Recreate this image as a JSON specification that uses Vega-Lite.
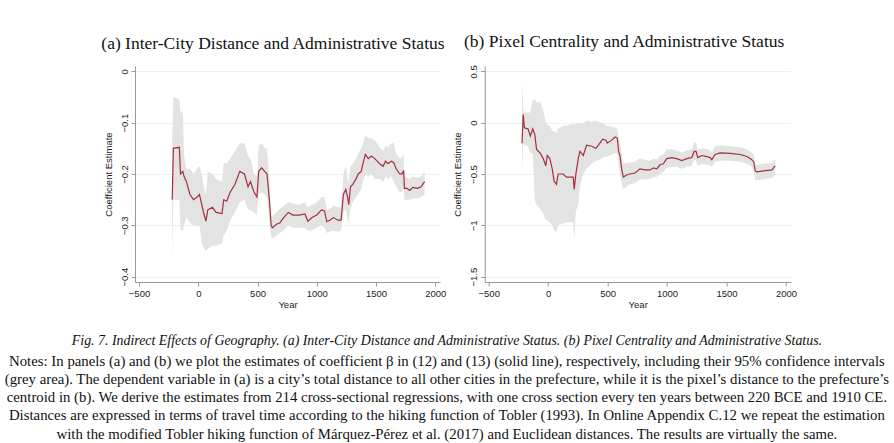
{
  "$schema": "https://vega.github.io/schema/vega-lite/v6.json",
  "background": "white",
  "padding": {"left": 4, "top": 33, "right": 4, "bottom": 2},
  "datasets": {
    "a": [
      {"year": -220, "est": -0.25, "lo": -0.37, "hi": -0.13},
      {"year": -210, "est": -0.15, "lo": -0.25, "hi": -0.05},
      {"year": -160, "est": -0.148, "lo": -0.25, "hi": -0.055},
      {"year": -150, "est": -0.2, "lo": -0.31, "hi": -0.08},
      {"year": -130, "est": -0.195, "lo": -0.31, "hi": -0.08},
      {"year": -120, "est": -0.205, "lo": -0.3, "hi": -0.165},
      {"year": -100, "est": -0.215, "lo": -0.285, "hi": -0.19},
      {"year": -70, "est": -0.24, "lo": -0.295, "hi": -0.19},
      {"year": -40, "est": -0.25, "lo": -0.3, "hi": -0.2},
      {"year": -10, "est": -0.245, "lo": -0.3, "hi": -0.19},
      {"year": 10, "est": -0.24, "lo": -0.3, "hi": -0.185},
      {"year": 30, "est": -0.26, "lo": -0.335, "hi": -0.2},
      {"year": 50, "est": -0.28, "lo": -0.345, "hi": -0.23},
      {"year": 65, "est": -0.292, "lo": -0.35, "hi": -0.24},
      {"year": 80, "est": -0.27, "lo": -0.345, "hi": -0.195},
      {"year": 120, "est": -0.265, "lo": -0.34, "hi": -0.2},
      {"year": 150, "est": -0.275, "lo": -0.34, "hi": -0.21},
      {"year": 200, "est": -0.277, "lo": -0.335, "hi": -0.215},
      {"year": 215, "est": -0.25, "lo": -0.32, "hi": -0.178},
      {"year": 240, "est": -0.253, "lo": -0.31, "hi": -0.18},
      {"year": 270, "est": -0.235, "lo": -0.29, "hi": -0.17},
      {"year": 310, "est": -0.22, "lo": -0.275, "hi": -0.155},
      {"year": 350, "est": -0.195, "lo": -0.255, "hi": -0.14},
      {"year": 390, "est": -0.2, "lo": -0.25, "hi": -0.14},
      {"year": 420, "est": -0.225, "lo": -0.27, "hi": -0.165},
      {"year": 440, "est": -0.215, "lo": -0.27, "hi": -0.17},
      {"year": 470, "est": -0.235, "lo": -0.275, "hi": -0.2},
      {"year": 495, "est": -0.245, "lo": -0.28, "hi": -0.205},
      {"year": 510, "est": -0.195, "lo": -0.24, "hi": -0.145},
      {"year": 535, "est": -0.188, "lo": -0.235, "hi": -0.14},
      {"year": 560, "est": -0.195, "lo": -0.24, "hi": -0.15},
      {"year": 580, "est": -0.2, "lo": -0.245, "hi": -0.15},
      {"year": 600, "est": -0.25, "lo": -0.29, "hi": -0.21},
      {"year": 615, "est": -0.3, "lo": -0.322, "hi": -0.28},
      {"year": 625, "est": -0.305, "lo": -0.325, "hi": -0.282},
      {"year": 660, "est": -0.298, "lo": -0.32, "hi": -0.275},
      {"year": 690, "est": -0.295, "lo": -0.315, "hi": -0.268},
      {"year": 720, "est": -0.285, "lo": -0.31, "hi": -0.262},
      {"year": 760, "est": -0.275, "lo": -0.3, "hi": -0.255},
      {"year": 800, "est": -0.28, "lo": -0.305, "hi": -0.258},
      {"year": 850, "est": -0.28, "lo": -0.305, "hi": -0.26},
      {"year": 900, "est": -0.278, "lo": -0.305, "hi": -0.255},
      {"year": 925, "est": -0.292, "lo": -0.31, "hi": -0.265},
      {"year": 960, "est": -0.285, "lo": -0.31, "hi": -0.26},
      {"year": 1000, "est": -0.28, "lo": -0.305, "hi": -0.255},
      {"year": 1040, "est": -0.27, "lo": -0.3, "hi": -0.245},
      {"year": 1065, "est": -0.272, "lo": -0.305, "hi": -0.245},
      {"year": 1085, "est": -0.293, "lo": -0.315, "hi": -0.27},
      {"year": 1110, "est": -0.29, "lo": -0.312, "hi": -0.268},
      {"year": 1140, "est": -0.285, "lo": -0.31, "hi": -0.262},
      {"year": 1180, "est": -0.29, "lo": -0.312, "hi": -0.265},
      {"year": 1205, "est": -0.29, "lo": -0.31, "hi": -0.265},
      {"year": 1225, "est": -0.24, "lo": -0.275, "hi": -0.2},
      {"year": 1245, "est": -0.23, "lo": -0.268, "hi": -0.185},
      {"year": 1260, "est": -0.245, "lo": -0.29, "hi": -0.21},
      {"year": 1270, "est": -0.26, "lo": -0.295, "hi": -0.215},
      {"year": 1285, "est": -0.225, "lo": -0.265, "hi": -0.185},
      {"year": 1305, "est": -0.22, "lo": -0.255, "hi": -0.18},
      {"year": 1330, "est": -0.21, "lo": -0.245, "hi": -0.17},
      {"year": 1350, "est": -0.2, "lo": -0.24, "hi": -0.16},
      {"year": 1375, "est": -0.195, "lo": -0.23, "hi": -0.15},
      {"year": 1390, "est": -0.18, "lo": -0.215, "hi": -0.14},
      {"year": 1410, "est": -0.162, "lo": -0.2, "hi": -0.125},
      {"year": 1435, "est": -0.17, "lo": -0.205, "hi": -0.13},
      {"year": 1460, "est": -0.165, "lo": -0.2, "hi": -0.13},
      {"year": 1490, "est": -0.17, "lo": -0.21, "hi": -0.135},
      {"year": 1510, "est": -0.175, "lo": -0.21, "hi": -0.14},
      {"year": 1530, "est": -0.18, "lo": -0.21, "hi": -0.148},
      {"year": 1560, "est": -0.185, "lo": -0.215, "hi": -0.155},
      {"year": 1580, "est": -0.175, "lo": -0.205, "hi": -0.145},
      {"year": 1600, "est": -0.18, "lo": -0.21, "hi": -0.148},
      {"year": 1630, "est": -0.175, "lo": -0.205, "hi": -0.14},
      {"year": 1650, "est": -0.178, "lo": -0.215, "hi": -0.14},
      {"year": 1670, "est": -0.19, "lo": -0.225, "hi": -0.16},
      {"year": 1700, "est": -0.2, "lo": -0.235, "hi": -0.17},
      {"year": 1720, "est": -0.2, "lo": -0.235, "hi": -0.168},
      {"year": 1733, "est": -0.193, "lo": -0.225, "hi": -0.16},
      {"year": 1740, "est": -0.228, "lo": -0.25, "hi": -0.205},
      {"year": 1760, "est": -0.228, "lo": -0.25, "hi": -0.207},
      {"year": 1785, "est": -0.232, "lo": -0.25, "hi": -0.21},
      {"year": 1810, "est": -0.226, "lo": -0.248, "hi": -0.205},
      {"year": 1850, "est": -0.228, "lo": -0.248, "hi": -0.207},
      {"year": 1880, "est": -0.225, "lo": -0.245, "hi": -0.205},
      {"year": 1910, "est": -0.215, "lo": -0.24, "hi": -0.195}
    ],
    "b": [
      {"year": -220, "est": -0.2, "lo": -0.46, "hi": 0.42},
      {"year": -210, "est": 0.08, "lo": -0.2, "hi": 0.12},
      {"year": -200, "est": -0.05, "lo": -0.22, "hi": 0.1},
      {"year": -170, "est": -0.06, "lo": -0.23, "hi": 0.1},
      {"year": -150, "est": -0.13, "lo": -0.3, "hi": 0.1},
      {"year": -130, "est": -0.06, "lo": -0.3, "hi": 0.22},
      {"year": -112, "est": -0.12, "lo": -0.75, "hi": 0.23},
      {"year": -98, "est": -0.26, "lo": -0.8, "hi": 0.2},
      {"year": -65, "est": -0.3, "lo": -0.84, "hi": 0.2},
      {"year": -42, "est": -0.35, "lo": -0.88, "hi": 0.12},
      {"year": -20, "est": -0.42, "lo": -0.95, "hi": 0.0},
      {"year": -8, "est": -0.32, "lo": -0.95, "hi": -0.02},
      {"year": 14, "est": -0.35, "lo": -0.97, "hi": -0.03},
      {"year": 34, "est": -0.45, "lo": -1.0, "hi": -0.08},
      {"year": 50, "est": -0.57, "lo": -1.05, "hi": -0.08},
      {"year": 70, "est": -0.6, "lo": -1.06, "hi": -0.1},
      {"year": 84, "est": -0.5, "lo": -1.0, "hi": -0.06},
      {"year": 126, "est": -0.5, "lo": -0.98, "hi": -0.03},
      {"year": 154, "est": -0.53, "lo": -0.97, "hi": -0.03},
      {"year": 211, "est": -0.53, "lo": -0.97, "hi": -0.01},
      {"year": 219, "est": -0.65, "lo": -1.14, "hi": -0.02},
      {"year": 233, "est": -0.5, "lo": -0.86, "hi": -0.01},
      {"year": 253, "est": -0.35, "lo": -0.8, "hi": 0.0},
      {"year": 267, "est": -0.28, "lo": -0.62, "hi": 0.0},
      {"year": 295, "est": -0.32, "lo": -0.5, "hi": -0.01},
      {"year": 323, "est": -0.22, "lo": -0.45, "hi": 0.02},
      {"year": 365, "est": -0.23, "lo": -0.4, "hi": 0.01},
      {"year": 402, "est": -0.25, "lo": -0.37, "hi": 0.02},
      {"year": 435, "est": -0.2, "lo": -0.36, "hi": 0.0},
      {"year": 458, "est": -0.16, "lo": -0.34, "hi": 0.0},
      {"year": 486, "est": -0.17, "lo": -0.33, "hi": -0.03},
      {"year": 497, "est": -0.2, "lo": -0.33, "hi": -0.03},
      {"year": 534, "est": -0.17, "lo": -0.31, "hi": -0.04},
      {"year": 562, "est": -0.14, "lo": -0.3, "hi": -0.05},
      {"year": 581, "est": -0.15, "lo": -0.3, "hi": -0.06},
      {"year": 593, "est": -0.28, "lo": -0.42, "hi": -0.14},
      {"year": 604, "est": -0.32, "lo": -0.5, "hi": -0.18},
      {"year": 618, "est": -0.45, "lo": -0.6, "hi": -0.3},
      {"year": 632, "est": -0.53, "lo": -0.65, "hi": -0.4},
      {"year": 660, "est": -0.51, "lo": -0.62, "hi": -0.39},
      {"year": 688, "est": -0.5, "lo": -0.6, "hi": -0.39},
      {"year": 730, "est": -0.49, "lo": -0.59, "hi": -0.38},
      {"year": 772, "est": -0.45, "lo": -0.55, "hi": -0.35},
      {"year": 815, "est": -0.46, "lo": -0.55, "hi": -0.36},
      {"year": 857, "est": -0.46, "lo": -0.55, "hi": -0.37},
      {"year": 885, "est": -0.44, "lo": -0.53, "hi": -0.35},
      {"year": 913, "est": -0.45, "lo": -0.53, "hi": -0.36},
      {"year": 941, "est": -0.41, "lo": -0.5, "hi": -0.32},
      {"year": 969, "est": -0.4, "lo": -0.48, "hi": -0.31},
      {"year": 997, "est": -0.35, "lo": -0.44, "hi": -0.26},
      {"year": 1039, "est": -0.34, "lo": -0.43, "hi": -0.26},
      {"year": 1081, "est": -0.35, "lo": -0.43, "hi": -0.27},
      {"year": 1124, "est": -0.37, "lo": -0.45, "hi": -0.29},
      {"year": 1166, "est": -0.35, "lo": -0.43, "hi": -0.27},
      {"year": 1208, "est": -0.34, "lo": -0.42, "hi": -0.26},
      {"year": 1228, "est": -0.28, "lo": -0.36, "hi": -0.19},
      {"year": 1244, "est": -0.28, "lo": -0.37, "hi": -0.19},
      {"year": 1258, "est": -0.34, "lo": -0.42, "hi": -0.26},
      {"year": 1292, "est": -0.32, "lo": -0.4, "hi": -0.25},
      {"year": 1334, "est": -0.33, "lo": -0.41, "hi": -0.26},
      {"year": 1362, "est": -0.34, "lo": -0.42, "hi": -0.27},
      {"year": 1376, "est": -0.36, "lo": -0.43, "hi": -0.29},
      {"year": 1404, "est": -0.31, "lo": -0.38, "hi": -0.23},
      {"year": 1447, "est": -0.295, "lo": -0.37, "hi": -0.22},
      {"year": 1531, "est": -0.3, "lo": -0.37, "hi": -0.23},
      {"year": 1615, "est": -0.31, "lo": -0.38, "hi": -0.24},
      {"year": 1671, "est": -0.33, "lo": -0.4, "hi": -0.26},
      {"year": 1713, "est": -0.36, "lo": -0.43, "hi": -0.29},
      {"year": 1728, "est": -0.38, "lo": -0.46, "hi": -0.31},
      {"year": 1742, "est": -0.47, "lo": -0.56, "hi": -0.4},
      {"year": 1756, "est": -0.48, "lo": -0.56, "hi": -0.41},
      {"year": 1812, "est": -0.47, "lo": -0.55, "hi": -0.4},
      {"year": 1882, "est": -0.46, "lo": -0.54, "hi": -0.39},
      {"year": 1902, "est": -0.43, "lo": -0.51, "hi": -0.36},
      {"year": 1910, "est": -0.42, "lo": -0.5, "hi": -0.36}
    ]
  },
  "title": {
    "text": "Fig. 7. Indirect Effects of Geography. (a) Inter-City Distance and Administrative Status. (b) Pixel Centrality and Administrative Status.",
    "subtitle": [
      "Notes: In panels (a) and (b) we plot the estimates of coefficient β in (12) and (13) (solid line), respectively, including their 95% confidence intervals",
      "(grey area). The dependent variable in (a) is a city’s total distance to all other cities in the prefecture, while it is the pixel’s distance to the prefecture’s",
      "centroid in (b). We derive the estimates from 214 cross-sectional regressions, with one cross section every ten years between 220 BCE and 1910 CE.",
      "Distances are expressed in terms of travel time according to the hiking function of Tobler (1993). In Online Appendix C.12 we repeat the estimation",
      "with the modified Tobler hiking function of Márquez-Pérez et al. (2017) and Euclidean distances. The results are virtually the same."
    ],
    "orient": "bottom",
    "anchor": "middle",
    "dx": -2,
    "offset": 25,
    "font": "Liberation Serif",
    "fontSize": 13.9,
    "fontWeight": "normal",
    "fontStyle": "italic",
    "color": "#111",
    "subtitleFont": "Liberation Serif",
    "subtitleFontSize": 14.8,
    "subtitleColor": "#111",
    "subtitleLineHeight": 18.2,
    "subtitlePadding": 6
  },
  "hconcat": [
    {
      "width": 305,
      "height": 216,
      "title": {"text": "(a) Inter-City Distance and Administrative Status", "anchor": "start", "frame": "group", "dx": -33.7, "offset": 14},
      "data": {"name": "a"},
      "encoding": {
        "x": {"field": "year", "type": "quantitative", "title": "Year",
              "scale": {"domain": [-534, 2040], "nice": false, "zero": false},
              "axis": {"values": [-500, 0, 500, 1000, 1500, 2000], "format": "d", "grid": false}}
      },
      "layer": [
        {"mark": {"type": "area", "color": "#e3e3e3", "opacity": 1},
         "encoding": {
           "y": {"field": "lo", "type": "quantitative", "title": "Coefficient Estimate",
                 "scale": {"domain": [-0.4105, 0.0104], "nice": false, "zero": false},
                 "axis": {"values": [0, -0.1, -0.2, -0.3, -0.4], "format": ".1~f"}},
           "y2": {"field": "hi"}
         }},
        {"mark": {"type": "line", "color": "#a3303c", "strokeWidth": 1.2},
         "encoding": {"y": {"field": "est", "type": "quantitative"}}}
      ]
    },
    {
      "width": 306,
      "height": 216,
      "title": {"text": "(b) Pixel Centrality and Administrative Status", "anchor": "start", "frame": "group", "dx": -20.7, "offset": 14},
      "data": {"name": "b"},
      "encoding": {
        "x": {"field": "year", "type": "quantitative", "title": "Year",
              "scale": {"domain": [-534, 2040], "nice": false, "zero": false},
              "axis": {"values": [-500, 0, 500, 1000, 1500, 2000], "format": "d", "grid": false}}
      },
      "layer": [
        {"mark": {"type": "area", "color": "#e3e3e3", "opacity": 1},
         "encoding": {
           "y": {"field": "lo", "type": "quantitative", "title": "Coefficient Estimate",
                 "scale": {"domain": [-1.552, 0.552], "nice": false, "zero": false},
                 "axis": {"values": [0.5, 0, -0.5, -1, -1.5], "format": ".1~f"}},
           "y2": {"field": "hi"}
         }},
        {"mark": {"type": "line", "color": "#a3303c", "strokeWidth": 1.2},
         "encoding": {"y": {"field": "est", "type": "quantitative"}}}
      ]
    }
  ],
  "spacing": 44.7,
  "bounds": "flush",
  "resolve": {"scale": {"y": "independent"}},
  "config": {
    "view": {"stroke": null},
    "title": {"font": "Liberation Serif", "fontSize": 17.5, "fontWeight": "normal", "color": "#111"},
    "axis": {
      "domainColor": "#9a9a9a",
      "tickColor": "#9a9a9a",
      "tickSize": 4,
      "labelFont": "Liberation Sans",
      "labelFontSize": 9.5,
      "labelColor": "#222",
      "titleFont": "Liberation Sans",
      "titleFontSize": 9.5,
      "titleFontWeight": "normal",
      "titleColor": "#222",
      "gridColor": "#eaf2f3",
      "gridWidth": 1
    },
    "axisX": {"labelPadding": 2, "titlePadding": 2},
    "axisY": {"labelAngle": 270, "labelAlign": "center", "labelBaseline": "bottom", "labelPadding": 2, "titlePadding": 6, "grid": true}
  }
}
